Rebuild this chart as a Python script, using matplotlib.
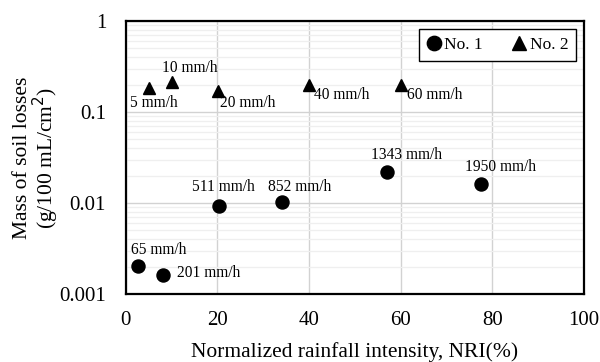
import matplotlib
matplotlib.use("Agg")
import matplotlib.pyplot as plt
from matplotlib.ticker import FixedLocator, FuncFormatter, LogLocator, NullFormatter

plt.rcParams['font.family'] = ['Liberation Serif', 'DejaVu Serif']

# Data
nri_1 = [2.7, 8.1, 20.4, 34.1, 57.1, 77.6]
mass_1 = [0.00203, 0.00162, 0.0093, 0.0102, 0.0217, 0.0162]
labels_1 = ["65 mm/h", "201 mm/h", "511 mm/h", "852 mm/h", "1343 mm/h", "1950 mm/h"]

nri_2 = [5.1, 10.1, 20.1, 40.1, 60.0]
mass_2 = [0.182, 0.212, 0.171, 0.198, 0.198]
labels_2 = ["5 mm/h", "10 mm/h", "20 mm/h", "40 mm/h", "60 mm/h"]

# label offsets in pixels (dx, dy) and alignment
off_1 = [(-7, 16, 'left'), (14, 2, 'left'), (4, 19, 'center'), (18, 15, 'center'), (19, 17, 'center'), (19, 16.5, 'center')]
off_2 = [(5, -15, 'center'), (18, 14, 'center'), (2, -12, 'left'), (32, -10, 'center'), (34, -10, 'center')]

fig = plt.figure(figsize=(6, 3.62), dpi=100)
ax = fig.add_axes([125.5/600, 68/362, (584-125.5)/600, (294-21)/362])

ax.set_xscale('linear')
ax.set_yscale('log')
ax.set_xlim(0, 100)
ax.set_ylim(0.001, 1)

ax.xaxis.set_major_locator(FixedLocator([0, 20, 40, 60, 80, 100]))
ax.yaxis.set_major_locator(FixedLocator([0.001, 0.01, 0.1, 1]))
ax.yaxis.set_major_formatter(FuncFormatter(lambda v, p: {0.001: '0.001', 0.01: '0.01', 0.1: '0.1', 1: '1'}.get(round(v, 3), '')))
ax.yaxis.set_minor_locator(LogLocator(base=10, subs=range(2, 10)))
ax.yaxis.set_minor_formatter(NullFormatter())

ax.grid(True, which='major', axis='both', color='#d2d2d2', linewidth=1.0, zorder=0)
ax.grid(True, which='minor', axis='y', color='#efefef', linewidth=0.9, zorder=0)
ax.set_axisbelow(True)

ax.tick_params(axis='x', which='both', length=0, labelsize=15, pad=12)
ax.tick_params(axis='y', which='both', length=0, labelsize=15, pad=14)
for s in ax.spines.values():
    s.set_color('black')
    s.set_linewidth(1.6)

ax.plot(nri_1, mass_1, linestyle='none', marker='o', markersize=9.4, color='black', label='No. 1', zorder=3, clip_on=False)
ax.plot(nri_2, mass_2, linestyle='none', marker='^', markersize=9.0, color='black', label='No. 2', zorder=3, clip_on=False)

for x, y, t, (dx, dy, ha) in zip(nri_1, mass_1, labels_1, off_1):
    ax.annotate(t, (x, y), xytext=(dx, dy), textcoords='offset pixels', ha=ha, va='center', fontsize=11.2)
for x, y, t, (dx, dy, ha) in zip(nri_2, mass_2, labels_2, off_2):
    ax.annotate(t, (x, y), xytext=(dx, dy), textcoords='offset pixels', ha=ha, va='center', fontsize=11.2)

ax.set_xlabel('Normalized rainfall intensity, NRI(%)', fontsize=15.5, labelpad=9)
ax.set_ylabel('Mass of soil losses\n(g/100 mL/cm$^2$)', fontsize=15.5, labelpad=-1.5, linespacing=0.95)

leg = ax.legend(loc='upper right', ncol=2, fontsize=12.5, frameon=True, fancybox=False,
                edgecolor='black', framealpha=1, handlelength=0.8, handletextpad=0.2,
                columnspacing=1.7, borderpad=0.45, borderaxespad=0,
                markerscale=1.1, bbox_to_anchor=(0.9826, 0.971))
leg.get_frame().set_linewidth(1.0)

fig.savefig('out.png', dpi=100)
